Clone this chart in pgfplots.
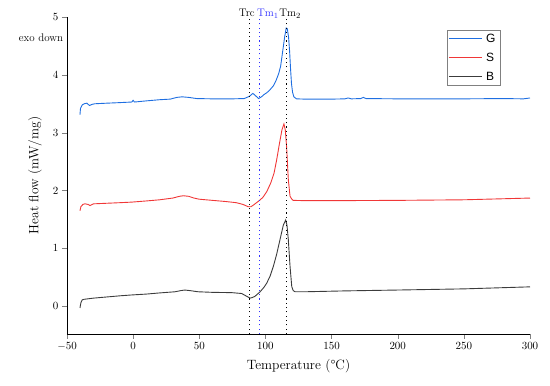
\documentclass[border=0pt]{standalone}
\usepackage{fontspec}
\usepackage{pgfplots}
\pgfplotsset{compat=1.18}
\newfontfamily\legfont{Liberation Sans}
\definecolor{cG}{RGB}{30,110,225}
\definecolor{cS}{RGB}{240,55,55}
\definecolor{cB}{RGB}{60,60,60}
\definecolor{cTm}{RGB}{50,50,255}
\begin{document}
\begin{tikzpicture}
\begin{axis}[
  scale only axis, width=463pt, height=317pt,
  xmin=-50, xmax=300, ymin=-0.48, ymax=5,
  xtick={-50,0,50,100,150,200,250,300},
  ytick={0,1,2,3,4,5},
  axis x line*=bottom, axis y line*=left,
  tick align=outside, major tick length=5pt,
  tick label style={font=\fontsize{11}{13}\selectfont},
  xlabel={Temperature (°C)},
  ylabel={Heat flow (mW/mg)},
  label style={font=\fontsize{13.5}{16}\selectfont},
  xlabel style={at={(axis description cs:0.5,-0.1)}, anchor=center},
  ylabel style={at={(axis description cs:-0.069,0.5)}, anchor=center},
  clip=false,
]
\addplot[cG, line width=0.9pt] coordinates {
(-40.2,3.31) (-39.8,3.42) (-38.5,3.48) (-37,3.50) (-35,3.51) (-33,3.47) (-31,3.49) (-29,3.50)
(-20,3.51) (-10,3.52) (-1,3.53) (0,3.56) (1,3.53) (10,3.55) (20,3.57) (28,3.58) (33,3.61)
(37,3.62) (42,3.61) (48,3.59) (60,3.585) (75,3.585) (84,3.59) (88,3.63) (90.5,3.68) (92.5,3.64)
(94.8,3.59) (97,3.62) (99,3.66) (101,3.69) (103,3.73) (106,3.81) (108,3.90) (110,4.02)
(111.5,4.15) (113,4.40) (114.5,4.65) (115.7,4.81) (116.5,4.80) (117.5,4.65) (118.3,4.40)
(119,4.10) (119.7,3.85) (120.5,3.70) (121.5,3.62) (123.5,3.585) (130,3.58) (150,3.58)
(160,3.585) (162.5,3.60) (165,3.585) (172,3.59) (174,3.61) (176,3.59) (200,3.585) (250,3.585)
(280,3.59) (295,3.585) (300,3.60)
};
\addplot[cS, line width=0.9pt] coordinates {
(-40.2,1.65) (-39.5,1.72) (-38,1.76) (-36.5,1.77) (-34,1.76) (-32.6,1.74) (-30,1.77) (-20,1.78)
(-10,1.79) (-1,1.80) (10,1.82) (20,1.84) (30,1.87) (35,1.90) (38,1.91) (42,1.90) (46,1.87)
(50,1.85) (60,1.83) (70,1.81) (78,1.79) (83,1.76) (87,1.72) (89,1.72) (91,1.75) (95,1.82)
(98,1.88) (101,1.98) (104,2.13) (106.5,2.30) (108.5,2.53) (110.5,2.80) (112.5,3.05) (114,3.15)
(115,3.05) (116,2.76) (117.3,2.19) (118.6,1.90) (120,1.85) (121,1.83) (130,1.825) (150,1.825)
(200,1.83) (250,1.84) (300,1.87)
};
\addplot[cB, line width=0.9pt] coordinates {
(-40.2,-0.03) (-39.5,0.06) (-38.5,0.11) (-37,0.12) (-30,0.14) (-20,0.16) (-10,0.18) (-1,0.195)
(10,0.21) (20,0.23) (31.7,0.25) (36,0.27) (39,0.28) (43,0.27) (49,0.25) (60,0.24) (74.5,0.235)
(82,0.22) (86,0.17) (88.3,0.14) (90,0.15) (92,0.17) (96,0.25) (99,0.33) (101,0.40) (103.5,0.52)
(106,0.69) (108.5,0.90) (111,1.15) (113.5,1.40) (115.3,1.49) (116.3,1.40) (117.3,1.15)
(118.6,0.69) (119.9,0.34) (121,0.27) (122.4,0.25) (130,0.25) (160,0.265) (200,0.28) (250,0.30)
(300,0.335)
};
\addplot[black, line width=1.1pt, dash pattern=on 1.1pt off 3.2pt] coordinates {(88.2,-0.48) (88.2,5)};
\addplot[cTm, line width=1.1pt, dash pattern=on 1.1pt off 3.2pt] coordinates {(95.4,-0.48) (95.4,5)};
\addplot[black, line width=1.1pt, dash pattern=on 1.1pt off 3.2pt] coordinates {(116,-0.48) (116,5)};
\node[anchor=base east, font=\fontsize{11}{13}\selectfont, inner sep=0pt, xshift=5pt] at (axis cs:88.3,5) {Trc};
\node[anchor=base west, font=\fontsize{11}{13}\selectfont, inner sep=0pt, xshift=-2.5pt, text=cTm] at (axis cs:95.4,5) {Tm$_1$};
\node[anchor=base west, font=\fontsize{11}{13}\selectfont, inner sep=0pt, xshift=-7.4pt] at (axis cs:116,5) {Tm$_2$};
\node[font=\fontsize{11}{13}\selectfont] at (axis description cs:-0.056,0.934) {exo down};
% legend
\draw[black!50, line width=0.6pt, fill=white] (axis description cs:0.821,0.785) rectangle (axis description cs:0.935,0.959);
\draw[cG, line width=0.9pt] (axis description cs:0.825,0.931) -- (axis description cs:0.897,0.931);
\draw[cS, line width=0.9pt] (axis description cs:0.825,0.873) -- (axis description cs:0.897,0.873);
\draw[cB, line width=0.9pt] (axis description cs:0.825,0.814) -- (axis description cs:0.897,0.814);
\node[anchor=west, inner sep=0pt, font=\legfont\fontsize{12}{14}\selectfont] at (axis description cs:0.905,0.931) {G};
\node[anchor=west, inner sep=0pt, font=\legfont\fontsize{12}{14}\selectfont] at (axis description cs:0.905,0.873) {S};
\node[anchor=west, inner sep=0pt, font=\legfont\fontsize{12}{14}\selectfont] at (axis description cs:0.905,0.814) {B};
\end{axis}
\path (current axis.south west) ++(-67pt,-52pt) rectangle ([shift={(20pt,17pt)}]current axis.north east);
\end{tikzpicture}
\end{document}
